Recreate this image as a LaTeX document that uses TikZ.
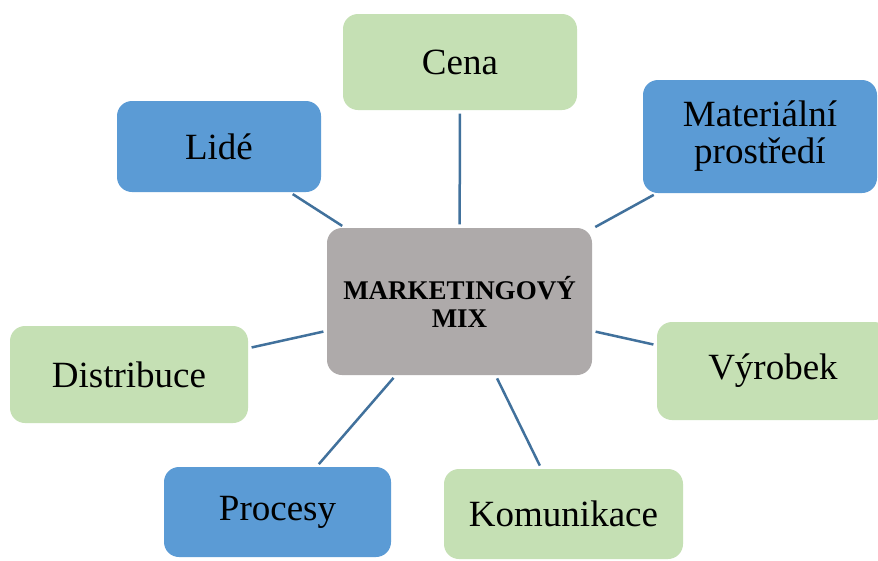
\documentclass[tikz,border=0pt]{standalone}
\usepackage{fontspec}
\setmainfont{Liberation Serif}
\definecolor{boxgreen}{HTML}{C5E0B4}
\definecolor{boxblue}{HTML}{5B9BD5}
\definecolor{boxgrey}{HTML}{AEAAAA}
\definecolor{linkblue}{HTML}{41719C}
\tikzset{
  card/.style={rectangle, rounded corners=15pt, inner sep=0pt, align=center,
    font=\fontsize{37}{37}\selectfont, text=black},
  greencard/.style={card, fill=boxgreen},
  bluecard/.style={card, fill=boxblue},
  hubcard/.style={card, fill=boxgrey, font=\fontsize{27}{28}\selectfont\bfseries},
  link/.style={draw=linkblue, line width=2.5pt, shorten >=3.5pt, shorten <=3.5pt}
}
\begin{document}
\begin{tikzpicture}[x=1pt,y=-1pt]
\clip (0,0) rectangle (878,560);
\fill[white] (0,0) rectangle (878,560);
\node[hubcard, minimum width=265pt, minimum height=147pt] (mix) at (459.5,301.5) {MARKETINGOVÝ\\MIX};
\node[greencard, minimum width=234pt, minimum height=96pt] (cena) at (460,62) {Cena};
\node[bluecard, minimum width=204pt, minimum height=91pt] (lide) at (219,146.5) {Lidé};
\node[bluecard, minimum width=234pt, minimum height=113pt] (mat) at (760,136.5) {Materiální\\prostředí};
\node[greencard, minimum width=238pt, minimum height=97pt] (dist) at (129,374.5) {Distribuce};
\node[greencard, minimum width=232pt, minimum height=98pt] (vyr) at (773,371) {Výrobek};
\node[bluecard, minimum width=227pt, minimum height=90pt] (proc) at (277.5,512) {Procesy};
\node[greencard, minimum width=239pt, minimum height=90pt] (kom) at (563.5,514) {Komunikace};
\draw[link] (mix) -- (cena);
\draw[link] (mix) -- (lide);
\draw[link] (mix) -- (mat);
\draw[link] (mix) -- (dist);
\draw[link] (mix) -- (vyr);
\draw[link] (mix) -- (proc);
\draw[link] (mix) -- (kom);
\end{tikzpicture}
\end{document}
